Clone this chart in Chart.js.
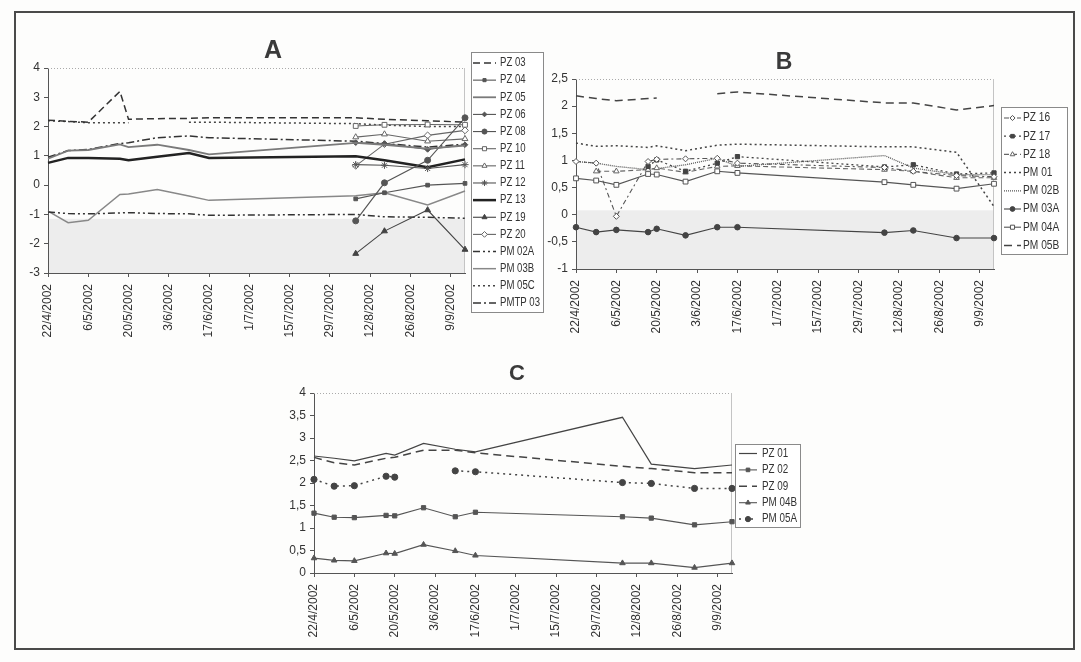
<!DOCTYPE html>
<html lang="pt">
<head>
<meta charset="utf-8">
<title>PZ / PM</title>
<script src="https://cdn.jsdelivr.net/npm/chart.js@4.4.1/dist/chart.umd.min.js"></script>
<style>
	html, body { margin: 0; padding: 0; background: #fff; }
	#page { position: relative; width: 1081px; height: 662px; overflow: hidden; background: #fdfdfc; }
	#frame { position: absolute; left: 14px; top: 11px; width: 1061px; height: 639px; border: 2px solid #4a4a4a; box-sizing: border-box; }
	canvas { position: absolute; }
	#chartA { left: 14px; top: 36px; }
	#chartB { left: 544px; top: 50px; }
	#chartC { left: 280px; top: 366px; }
	.panel-title { position: absolute; transform: translate(-50%, -50%); font-family: "Liberation Sans", Arial, sans-serif; font-weight: bold; color: #3a3a3a; line-height: 1; }
</style>
</head>
<body>
<div id="page">
	<div id="frame"></div>
	<canvas id="chartA" width="530" height="320"></canvas>
	<canvas id="chartB" width="530" height="300"></canvas>
	<canvas id="chartC" width="530" height="280"></canvas>
	<div class="panel-title" style="left:273px; top:49px; font-size:25px;">A</div>
	<div class="panel-title" style="left:784px; top:61px; font-size:23px;">B</div>
	<div class="panel-title" style="left:517px; top:373px; font-size:22px;">C</div>
</div>
<script>
// datas de amostragem (comuns aos três gráficos)
const sampleDates = ['22/4/2002', '29/4/2002', '6/5/2002', '17/5/2002', '20/5/2002', '30/5/2002',
	'10/6/2002', '17/6/2002', '7/8/2002', '17/8/2002', '1/9/2002', '14/9/2002'];
const xTickLabels = ['22/4/2002', '6/5/2002', '20/5/2002', '3/6/2002', '17/6/2002', '1/7/2002',
	'15/7/2002', '29/7/2002', '12/8/2002', '26/8/2002', '9/9/2002'];

const yTicksA = [-3, -2, -1, 0, 1, 2, 3, 4];
const yTicksB = [-1, -0.5, 0, 0.5, 1, 1.5, 2, 2.5];
const yTicksC = [0, 0.5, 1, 1.5, 2, 2.5, 3, 3.5, 4];

// --- A ---
const pz03 = [2.22, 2.18, 2.15, 3.2, 2.25, 2.27, 2.28, 2.3, 2.3, 2.25, 2.2, 2.15];
const pz04 = [null, null, null, null, null, null, null, null, -0.47, -0.26, 0.0, 0.06];
const pz05 = [0.9, 1.18, 1.2, 1.39, 1.3, 1.38, 1.2, 1.05, 1.44, 1.38, 1.25, 1.35];
const pz06 = [null, null, null, null, null, null, null, null, 1.45, 1.42, 1.22, 1.38];
const pz08 = [null, null, null, null, null, null, null, null, -1.22, 0.08, 0.85, 2.3];
const pz10 = [null, null, null, null, null, null, null, null, 2.02, 2.06, 2.07, 2.06];
const pz11 = [null, null, null, null, null, null, null, null, 1.64, 1.74, 1.5, 1.58];
const pz12 = [null, null, null, null, null, null, null, null, 0.7, 0.68, 0.57, 0.7];
const pz13 = [0.76, 0.93, 0.93, 0.9, 0.85, 0.97, 1.1, 0.93, 0.99, 0.85, 0.61, 0.88];
const pz19 = [null, null, null, null, null, null, null, null, -2.34, -1.57, -0.85, -2.2];
const pz20 = [null, null, null, null, null, null, null, null, 0.66, 1.4, 1.7, 1.87];
const pm02a = [-0.92, -0.97, -0.98, -0.95, -0.94, -0.97, -0.98, -1.03, -1.0, -1.08, -1.1, -1.13];
const pm03b = [-0.89, -1.28, -1.2, -0.32, -0.3, -0.15, -0.37, -0.52, -0.36, -0.26, -0.68, -0.2];
const pm05c = [2.2, 2.17, 2.13, 2.13, 2.13, null, 2.15, 2.15, 2.1, 2.05, 2.0, 2.0];
const pmtp03 = [0.95, 1.18, 1.22, 1.42, 1.45, 1.62, 1.68, 1.62, 1.5, 1.42, 1.3, 1.4];

// --- B ---
const pz16 = [0.98, 0.95, -0.03, 0.98, 1.02, 1.03, 1.04, 0.95, 0.87, 0.8, 0.72, 0.7];
const pz17 = [null, null, null, 0.89, 1.01, 0.8, 0.95, 1.07, 0.88, 0.92, 0.75, 0.77];
const pz18 = [null, 0.8, 0.8, 0.83, 0.86, 0.78, 0.89, 0.9, 0.83, 0.8, 0.68, 0.68];
const pm01 = [1.32, 1.26, 1.27, 1.24, 1.27, 1.18, 1.28, 1.3, 1.25, 1.25, 1.15, 0.15];
const pm02b = [0.98, 0.95, 0.89, 0.83, 0.85, 0.92, 1.04, 0.89, 1.09, 0.86, 0.74, 0.74];
const pm03a = [-0.23, -0.32, -0.28, -0.32, -0.26, -0.38, -0.23, -0.23, -0.33, -0.29, -0.43, -0.43];
const pm04a = [0.67, 0.63, 0.55, 0.75, 0.74, 0.61, 0.8, 0.77, 0.6, 0.55, 0.48, 0.57];
const pm05b = [2.19, 2.14, 2.1, 2.14, 2.15, null, 2.23, 2.26, 2.06, 2.06, 1.93, 2.01];

// --- C ---
const pz01 = [2.6, 2.55, 2.49, 2.66, 2.62, 2.88, 2.75, 2.69, 3.46, 2.42, 2.32, 2.4];
const pz02 = [1.33, 1.24, 1.23, 1.28, 1.27, 1.45, 1.25, 1.35, 1.25, 1.22, 1.07, 1.14];
const pz09 = [2.57, 2.45, 2.4, 2.55, 2.57, 2.73, 2.73, 2.67, 2.37, 2.32, 2.23, 2.23];
const pm04b = [0.33, 0.28, 0.27, 0.44, 0.43, 0.63, 0.49, 0.39, 0.22, 0.22, 0.12, 0.22];
const pm05a = [2.08, 1.93, 1.94, 2.15, 2.13, null, 2.27, 2.25, 2.01, 1.99, 1.88, 1.88];

const seriesA = [['PZ 03', pz03], ['PZ 04', pz04], ['PZ 05', pz05], ['PZ 06', pz06], ['PZ 08', pz08],
	['PZ 10', pz10], ['PZ 11', pz11], ['PZ 12', pz12], ['PZ 13', pz13], ['PZ 19', pz19], ['PZ 20', pz20],
	['PM 02A', pm02a], ['PM 03B', pm03b], ['PM 05C', pm05c], ['PMTP 03', pmtp03]];
const seriesB = [['PZ 16', pz16], ['PZ 17', pz17], ['PZ 18', pz18], ['PM 01', pm01],
	['PM 02B', pm02b], ['PM 03A', pm03a], ['PM 04A', pm04a], ['PM 05B', pm05b]];
const seriesC = [['PZ 01', pz01], ['PZ 02', pz02], ['PZ 09', pz09], ['PM 04B', pm04b], ['PM 05A', pm05a]];

// estilos das linhas (papel digitalizado, tudo em tons de cinzento)
const DASH = [7, 4], DOT = [2, 3], DASHDOT = [8, 3, 2, 3], DASHDOTDOT = [7, 3, 2, 3, 2, 3];
const styles = {
	'PZ 03': { color: '#333', width: 1.5, dash: DASH },
	'PZ 04': { color: '#555', marker: 'rect', r: 2.6 },
	'PZ 05': { color: '#7a7a7a', width: 1.8 },
	'PZ 06': { color: '#555', marker: 'rectRot', r: 2.8 },
	'PZ 08': { color: '#555', marker: 'circle', r: 3 },
	'PZ 10': { color: '#666', marker: 'rect', r: 3.4, open: true },
	'PZ 11': { color: '#666', marker: 'triangle', r: 3.4, open: true },
	'PZ 12': { color: '#555', marker: 'star', r: 3.6 },
	'PZ 13': { color: '#222', width: 2.5 },
	'PZ 19': { color: '#444', marker: 'triangle', r: 3.4 },
	'PZ 20': { color: '#666', marker: 'rectRot', r: 3.4, open: true },
	'PM 02A': { color: '#333', width: 1.5, dash: DASHDOTDOT },
	'PM 03B': { color: '#888', width: 1.5 },
	'PM 05C': { color: '#444', width: 1.5, dash: DOT },
	'PMTP 03': { color: '#333', width: 1.5, dash: DASHDOT },

	'PZ 16': { color: '#555', dash: [5, 3, 2, 3], marker: 'rectRot', r: 3, open: true },
	'PZ 17': { color: '#444', width: 1.3, dash: DOT, marker: 'rect', r: 3 },
	'PZ 18': { color: '#666', dash: [5, 3], marker: 'triangle', r: 3.2, open: true },
	'PM 01': { color: '#444', width: 1.5, dash: DOT },
	'PM 02B': { color: '#555', width: 1.3, dash: [1, 1] },
	'PM 03A': { color: '#444', marker: 'circle', r: 2.8 },
	'PM 04A': { color: '#555', marker: 'rect', r: 3.4, open: true },
	'PM 05B': { color: '#444', width: 1.5, dash: [8, 5] },

	'PZ 01': { color: '#444', width: 1.2 },
	'PZ 02': { color: '#555', marker: 'rect', r: 3 },
	'PZ 09': { color: '#444', width: 1.5, dash: [8, 5] },
	'PM 04B': { color: '#555', marker: 'triangle', r: 3.2 },
	'PM 05A': { color: '#444', width: 1.5, dash: [2, 4], marker: 'circle', r: 3.1 }
};

const FONT_FAMILY = '"Liberation Sans Narrow", "Arial Narrow", "Liberation Sans", Arial, sans-serif';
const BASE = Date.UTC(2002, 3, 22);

function toDay(s) {
	const [d, m, y] = s.split('/').map(Number);
	return Math.round((Date.UTC(y, m - 1, d) - BASE) / 86400000);
}

function dayLabel(n) {
	const dt = new Date(BASE + n * 86400000);
	return dt.getUTCDate() + '/' + (dt.getUTCMonth() + 1) + '/' + dt.getUTCFullYear();
}

// faixa cinzenta da digitalização + moldura fina da área do gráfico
const plotFrame = {
	id: 'plotFrame',
	beforeDatasetsDraw(chart, args, opts) {
		const { ctx, chartArea: a } = chart;
		const y = chart.scales.y;
		ctx.save();
		if (opts.shade) {
			const top = y.getPixelForValue(opts.shade[0]);
			const bottom = y.getPixelForValue(opts.shade[1]);
			ctx.fillStyle = '#ededed';
			ctx.fillRect(a.left + 1, top, a.right - a.left - 1, bottom - top);
		}
		ctx.lineWidth = 1;
		ctx.strokeStyle = '#aaa';
		ctx.setLineDash([1, 2]);
		ctx.beginPath();
		ctx.moveTo(a.left, a.top + 0.5);
		ctx.lineTo(a.right, a.top + 0.5);
		ctx.stroke();
		ctx.setLineDash([]);
		ctx.strokeStyle = '#c4c4c4';
		ctx.beginPath();
		ctx.moveTo(a.right - 0.5, a.top);
		ctx.lineTo(a.right - 0.5, a.bottom);
		ctx.stroke();
		ctx.restore();
	}
};

// legenda em caixa à direita, com amostra de linha + marcador
const sideLegend = {
	id: 'sideLegend',
	afterDraw(chart, args, o) {
		const ctx = chart.ctx;
		const left = chart.chartArea.right + o.gap;
		ctx.save();
		ctx.fillStyle = '#fff';
		ctx.fillRect(left, o.top, o.width, o.height);
		ctx.strokeStyle = '#8a8a8a';
		ctx.lineWidth = 1;
		ctx.strokeRect(left + 0.5, o.top + 0.5, o.width, o.height);
		chart.data.datasets.forEach((ds, i) => {
			const cy = o.top + o.first + i * o.rowH;
			const x0 = left + o.sampleX;
			ctx.strokeStyle = ds.borderColor;
			ctx.lineWidth = ds.borderWidth;
			ctx.setLineDash(ds.borderDash);
			ctx.beginPath();
			ctx.moveTo(x0, cy);
			ctx.lineTo(x0 + o.sampleW, cy);
			ctx.stroke();
			ctx.setLineDash([]);
			if (ds.pointRadius > 0 && Chart.helpers && Chart.helpers.drawPoint) {
				ctx.fillStyle = ds.pointBackgroundColor;
				ctx.strokeStyle = ds.pointBorderColor;
				ctx.lineWidth = 1;
				Chart.helpers.drawPoint(ctx, { pointStyle: ds.pointStyle, radius: ds.pointRadius * 0.85, borderWidth: 1, rotation: 0 }, x0 + o.sampleW / 2, cy);
			}
			// texto estreito, como no original (Arial Narrow)
			ctx.save();
			ctx.translate(left + o.textX, cy);
			ctx.scale(o.squeeze, 1);
			ctx.fillStyle = '#333';
			ctx.font = o.fontSize + 'px ' + FONT_FAMILY;
			ctx.textBaseline = 'middle';
			ctx.textAlign = 'left';
			ctx.fillText(ds.label, 0, 0);
			ctx.restore();
		});
		ctx.restore();
	}
};

function buildChart(id, series, yTicks, frame, legend) {
	const days = sampleDates.map(toDay);
	const datasets = series.map(([name, values]) => {
		const st = styles[name];
		return {
			label: name,
			data: values.map((v, i) => ({ x: days[i], y: v })),
			borderColor: st.color,
			borderWidth: st.width || 1.1,
			borderDash: st.dash || [],
			pointStyle: st.marker || 'circle',
			pointRadius: st.marker ? st.r : 0,
			pointHoverRadius: st.marker ? st.r : 0,
			pointBackgroundColor: st.open ? '#fff' : st.color,
			pointBorderColor: st.color,
			pointBorderWidth: 1,
			tension: 0,
			spanGaps: false,
			clip: false
		};
	});

	const tickFont = { family: FONT_FAMILY, size: 12 };

	return new Chart(document.getElementById(id), {
		type: 'line',
		data: { datasets },
		options: {
			responsive: false,
			animation: false,
			events: [],
			layout: { padding: { top: frame.top, right: frame.right, left: 0, bottom: 0 } },
			plugins: {
				legend: { display: false },
				tooltip: { enabled: false },
				plotFrame: { shade: frame.shade },
				sideLegend: legend
			},
			scales: {
				x: {
					type: 'linear',
					min: 0,
					max: days[days.length - 1],
					afterBuildTicks: s => { s.ticks = xTickLabels.map(l => ({ value: toDay(l) })); },
					afterFit: s => { s.height = frame.xAxisH; },
					ticks: {
						callback: v => dayLabel(v),
						autoSkip: false,
						minRotation: 90,
						maxRotation: 90,
						padding: 7,
						color: '#333',
						font: tickFont
					},
					grid: { drawOnChartArea: false, tickLength: 4, color: '#555' },
					border: { color: '#555', width: 1 }
				},
				y: {
					min: yTicks[0],
					max: yTicks[yTicks.length - 1],
					afterBuildTicks: s => { s.ticks = yTicks.map(v => ({ value: v })); },
					afterFit: s => { s.width = frame.yAxisW; },
					ticks: {
						callback: v => String(v).replace('.', ','),
						padding: 4,
						color: '#333',
						font: tickFont
					},
					grid: { drawOnChartArea: false, tickLength: 4, color: '#555' },
					border: { color: '#555', width: 1 }
				}
			}
		},
		plugins: [plotFrame, sideLegend]
	});
}

buildChart('chartA', seriesA, yTicksA,
	{ top: 32, right: 79, yAxisW: 34, xAxisH: 83, shade: [-1.15, -3] },
	{ gap: 6, top: 16, width: 72, height: 260, first: 11, rowH: 17.14, sampleX: 2, sampleW: 23, textX: 29, fontSize: 12, squeeze: 0.8 });

buildChart('chartB', seriesB, yTicksB,
	{ top: 29, right: 80, yAxisW: 32, xAxisH: 81, shade: [0.08, -1] },
	{ gap: 7, top: 57, width: 66, height: 147, first: 11, rowH: 18.2, sampleX: 3, sampleW: 17, textX: 22, fontSize: 12, squeeze: 0.85 });

buildChart('chartC', seriesC, yTicksC,
	{ top: 27, right: 78, yAxisW: 34, xAxisH: 73, shade: null },
	{ gap: 3, top: 78, width: 65, height: 83, first: 9.5, rowH: 16.4, sampleX: 4, sampleW: 18, textX: 27, fontSize: 12, squeeze: 0.82 });
</script>
</body>
</html>
